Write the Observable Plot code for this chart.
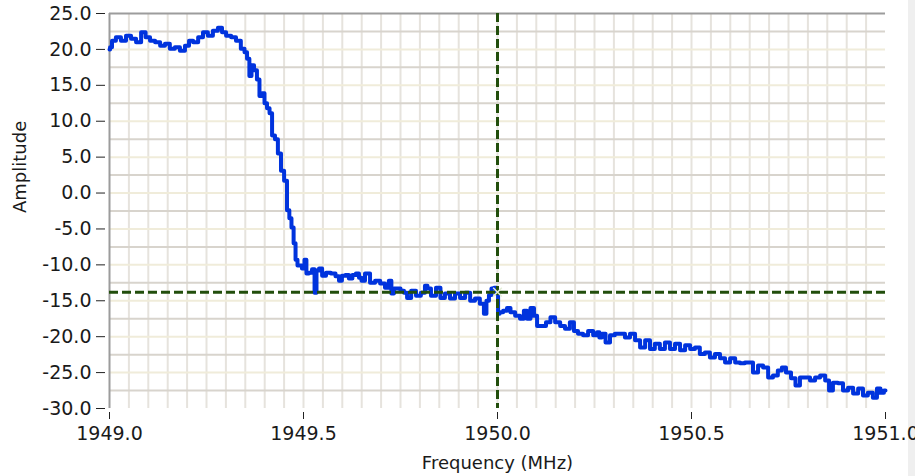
<!DOCTYPE html>
<html>
<head>
<meta charset="utf-8">
<script src="https://cdn.jsdelivr.net/npm/d3@7"></script>
<script src="https://cdn.jsdelivr.net/npm/@observablehq/plot@0.6"></script>
<style>
  html, body { margin: 0; padding: 0; background: #ffffff; }
  #wrap { position: relative; width: 915px; height: 476px; overflow: hidden; }
  #edge { position: absolute; right: 0; top: 0; width: 7px; height: 476px; background: #efefef; z-index: 0; }
  #chart { position: relative; z-index: 1; }
</style>
</head>
<body>
<div id="wrap"><div id="edge"></div><div id="chart"></div></div>
<script>
// Frequency (MHz) of each sample
const freq = [
  1949.000, 1949.003, 1949.010, 1949.023, 1949.036, 1949.049, 1949.062, 1949.075, 1949.088, 1949.098,
  1949.111, 1949.124, 1949.137, 1949.149, 1949.162, 1949.175, 1949.188, 1949.201, 1949.209, 1949.222,
  1949.235, 1949.247, 1949.260, 1949.273, 1949.286, 1949.294, 1949.307, 1949.320, 1949.332, 1949.345,
  1949.351, 1949.358, 1949.363, 1949.369, 1949.376, 1949.384, 1949.389, 1949.397, 1949.402, 1949.410,
  1949.415, 1949.423, 1949.430, 1949.438, 1949.446, 1949.454, 1949.461, 1949.466, 1949.472, 1949.477,
  1949.482, 1949.487, 1949.492, 1949.500, 1949.505, 1949.510, 1949.518, 1949.526, 1949.531, 1949.536,
  1949.544, 1949.552, 1949.564, 1949.577, 1949.588, 1949.595, 1949.603, 1949.613, 1949.621, 1949.631,
  1949.639, 1949.647, 1949.652, 1949.665, 1949.678, 1949.691, 1949.704, 1949.716, 1949.724, 1949.729,
  1949.737, 1949.745, 1949.755, 1949.763, 1949.771, 1949.784, 1949.796, 1949.809, 1949.817, 1949.822,
  1949.835, 1949.848, 1949.858, 1949.871, 1949.884, 1949.897, 1949.910, 1949.923, 1949.936, 1949.948,
  1949.961, 1949.969, 1949.974, 1949.982, 1949.987, 1949.995, 1950.000, 1950.003, 1950.008, 1950.021,
  1950.028, 1950.039, 1950.052, 1950.064, 1950.072, 1950.080, 1950.090, 1950.098, 1950.106, 1950.119,
  1950.131, 1950.142, 1950.155, 1950.168, 1950.180, 1950.193, 1950.201, 1950.214, 1950.227, 1950.240,
  1950.253, 1950.260, 1950.265, 1950.273, 1950.284, 1950.296, 1950.309, 1950.322, 1950.335, 1950.348,
  1950.361, 1950.374, 1950.387, 1950.399, 1950.412, 1950.425, 1950.438, 1950.451, 1950.464, 1950.477,
  1950.490, 1950.503, 1950.515, 1950.528, 1950.541, 1950.554, 1950.567, 1950.580, 1950.593, 1950.606,
  1950.619, 1950.631, 1950.644, 1950.652, 1950.665, 1950.678, 1950.691, 1950.704, 1950.716, 1950.729,
  1950.737, 1950.750, 1950.763, 1950.773, 1950.786, 1950.799, 1950.812, 1950.825, 1950.838, 1950.851,
  1950.858, 1950.871, 1950.884, 1950.897, 1950.910, 1950.923, 1950.936, 1950.948, 1950.961, 1950.974,
  1950.982, 1950.992, 1951.000
];
// Amplitude read at each sample
const amp = [
  20.0, 20.3, 21.2, 21.7, 21.2, 21.9, 21.5, 21.0, 22.4, 21.7,
  21.2, 21.0, 20.5, 20.8, 20.1, 20.3, 19.8, 20.5, 21.2, 21.0,
  21.7, 22.4, 21.9, 22.6, 23.0, 22.4, 21.9, 21.7, 21.2, 20.1,
  19.6, 18.7, 16.3, 17.8, 17.1, 15.8, 13.5, 13.9, 12.5, 11.8,
  11.1, 8.0, 7.5, 5.5, 3.1, 1.7, -2.4, -3.5, -4.8, -7.0,
  -9.3, -10.1, -10.1, -10.5, -9.3, -11.2, -11.1, -10.6, -13.9, -10.8,
  -10.5, -11.5, -11.1, -11.2, -11.6, -12.2, -11.5, -11.4, -11.9, -11.4,
  -11.2, -11.8, -12.2, -11.2, -12.5, -12.2, -12.6, -13.2, -12.2, -14.0,
  -13.3, -13.3, -13.6, -13.9, -14.6, -13.6, -14.3, -13.9, -12.9, -13.3,
  -14.3, -13.2, -14.6, -14.0, -14.7, -14.0, -14.6, -13.9, -15.0, -14.7,
  -15.4, -16.8, -15.0, -14.2, -13.3, -13.2, -14.0, -16.8, -16.6, -16.4,
  -16.0, -16.6, -17.1, -17.5, -16.4, -17.5, -16.0, -17.1, -18.5, -18.5,
  -18.0, -17.3, -18.0, -18.5, -18.9, -18.0, -19.2, -19.6, -19.8, -19.2,
  -19.8, -19.4, -20.1, -19.6, -20.8, -19.8, -19.6, -19.6, -20.1, -19.6,
  -20.5, -21.5, -20.5, -21.7, -21.0, -21.7, -20.8, -21.7, -21.0, -21.9,
  -21.2, -21.7, -21.5, -22.4, -22.2, -22.9, -22.4, -23.0, -23.6, -23.0,
  -23.6, -23.7, -23.6, -23.6, -25.0, -24.0, -24.3, -25.7, -25.4, -24.7,
  -24.3, -25.0, -25.8, -26.8, -25.7, -25.7, -26.1, -25.7, -25.4, -26.1,
  -27.5, -26.4, -26.5, -27.5, -27.1, -27.9, -27.2, -28.2, -27.8, -28.5,
  -27.2, -27.8, -27.5
];
// Tick labels
const xTicks = [1949.0, 1949.5, 1950.0, 1950.5, 1951.0];
const yTicks = [25, 20, 15, 10, 5, 0, -5, -10, -15, -20, -25, -30];
// Grid lines
const yGridMajor = [22.5, 17.5, 12.5, 7.5, 2.5, -2.5, -7.5, -12.5, -17.5, -22.5, -27.5];
const yGridMinor = [20, 15, 10, 5, 0, -5, -10, -15, -20, -25];
const xGrid = [
  1949.05, 1949.10, 1949.15, 1949.20, 1949.25, 1949.30, 1949.35, 1949.40, 1949.45, 1949.50,
  1949.55, 1949.60, 1949.65, 1949.70, 1949.75, 1949.80, 1949.85, 1949.90, 1949.95, 1950.00,
  1950.05, 1950.10, 1950.15, 1950.20, 1950.25, 1950.30, 1950.35, 1950.40, 1950.45, 1950.50,
  1950.55, 1950.60, 1950.65, 1950.70, 1950.75, 1950.80, 1950.85, 1950.90, 1950.95
];
// Cursor position
const cursorX = [1950.0];
const cursorY = [-13.8];

const data = freq.map((f, i) => ({f, a: amp[i]}));
const fmt = d => d.toFixed(1);
const cursorColor = "#224e0c";

const chart = Plot.plot({
  width: 915,
  height: 476,
  marginLeft: 109,
  marginRight: 30,
  marginTop: 13,
  marginBottom: 68,
  style: {fontFamily: "DejaVu Sans", fontSize: "19px", color: "#1a1a1a", background: "transparent", overflow: "visible"},
  x: {domain: [1949, 1951]},
  y: {domain: [-30, 25]},
  marks: [
    Plot.ruleX(xGrid, {stroke: "#e6e3dd", strokeWidth: 2}),
    Plot.ruleY(yGridMinor, {stroke: "#f0ecda", strokeWidth: 2}),
    Plot.ruleY(yGridMajor, {stroke: "#d8d4cd", strokeWidth: 2}),
    Plot.ruleY([25], {stroke: "#9c9c9c", strokeWidth: 2}),
    Plot.ruleX([1949], {stroke: "#9c9c9c", strokeWidth: 2}),
    Plot.axisY({ticks: yTicks, tickFormat: fmt, tickSize: 9, tickPadding: 5, dx: -4, label: null, stroke: "#222"}),
    Plot.axisX({ticks: xTicks, tickFormat: fmt, tickSize: 7, tickPadding: 7, dy: 4, label: null, stroke: "#222"}),
    Plot.text(["Frequency (MHz)"], {frameAnchor: "bottom", dy: 55, lineAnchor: "middle", fontSize: 18, fill: "#1a1a1a"}),
    Plot.text(["Amplitude"], {frameAnchor: "left", dx: -89, dy: 2, rotate: -90, fontSize: 18, fill: "#1a1a1a"}),
    Plot.line(data, {x: "f", y: "a", stroke: "#0033dd", strokeWidth: 4, curve: "step"}),
    Plot.ruleX(cursorX, {stroke: cursorColor, strokeWidth: 3, strokeDasharray: "9,4"}),
    Plot.ruleY(cursorY, {stroke: cursorColor, strokeWidth: 3, strokeDasharray: "9,4"}),
    Plot.dot([{x: cursorX[0], y: cursorY[0]}], {x: "x", y: "y", symbol: "times", r: 4, stroke: "#e4eed8", strokeWidth: 1.5})
  ]
});
document.getElementById("chart").appendChild(chart);
</script>
</body>
</html>
